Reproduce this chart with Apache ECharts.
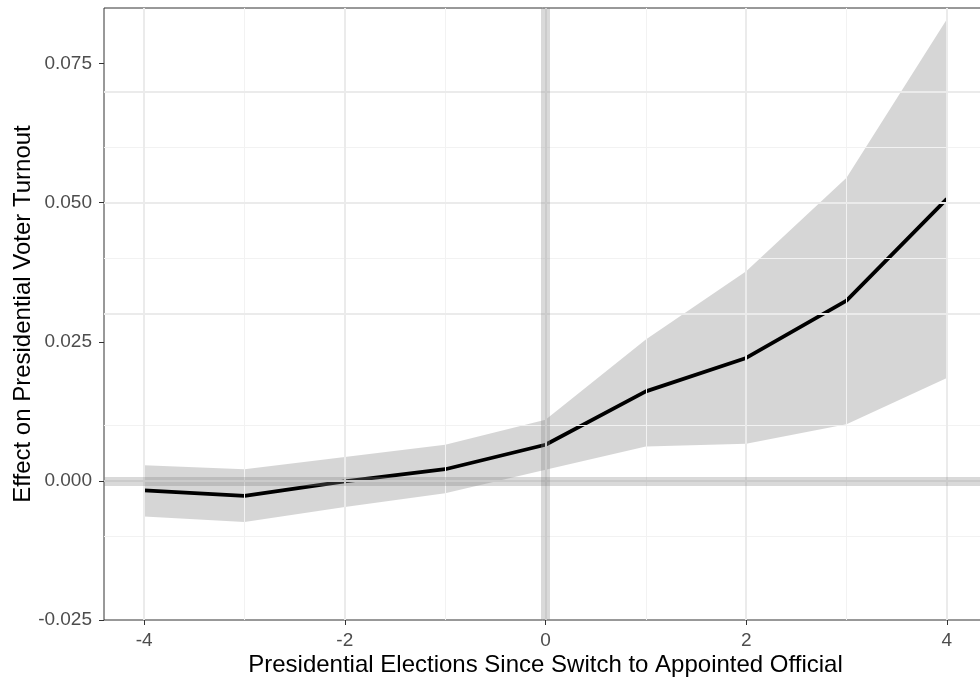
<!DOCTYPE html>
<html>
<head>
<meta charset="utf-8">
<script src="https://cdn.jsdelivr.net/npm/echarts@6/dist/echarts.min.js"></script>
<style>
  html, body { margin: 0; padding: 0; background: #ffffff; }
  #chart { width: 980px; height: 677px; }
</style>
</head>
<body>
<div id="chart"></div>
<script>
// Event-study estimates: effect on presidential turnout by elections since the switch
const elections = [-4, -3, -2, -1, 0, 1, 2, 3, 4];
const effect = [-0.0017, -0.0027, -0.0001, 0.0021, 0.0065, 0.0161, 0.0221, 0.0324, 0.0507];
const upper  = [0.0028, 0.0021, 0.0043, 0.0065, 0.0110, 0.0254, 0.0377, 0.0545, 0.0830];
const lower  = [-0.0064, -0.0074, -0.0047, -0.0022, 0.0020, 0.0062, 0.0067, 0.0102, 0.0185];

// Axis breaks
const xTicks = [-4, -2, 0, 2, 4];
const yTicks = [-0.025, 0, 0.025, 0.05, 0.075];
const xMinor = [-3, -1, 1, 3];
const yMinor = [-0.0125, 0.0125, 0.0375, 0.0625];

// Reference lines (treatment onset and zero effect)
const refX = [0];
const refY = [0];

const FONT = 'Liberation Sans, Arial, sans-serif';

const chart = echarts.init(document.getElementById('chart'), null, { renderer: 'canvas' });

const gridLines = (xs, ys, color, width) => ({
  silent: true,
  symbol: 'none',
  animation: false,
  label: { show: false },
  emphasis: { disabled: true },
  lineStyle: { color: color, width: width, type: 'solid' },
  data: xs.map(v => ({ xAxis: v })).concat(ys.map(v => ({ yAxis: v })))
});

chart.setOption({
  animation: false,
  backgroundColor: '#ffffff',
  grid: {
    left: 104, top: 8, right: -7, bottom: 57,
    outerBoundsMode: 'none',
    containLabel: false,
    show: true, borderColor: '#333333', borderWidth: 1, backgroundColor: '#ffffff'
  },
  xAxis: {
    type: 'value',
    min: -4.4, max: 4.4, interval: 0.4,
    name: 'Presidential Elections Since Switch to Appointed Official',
    nameLocation: 'middle', nameGap: 33, nameMoveOverlap: false,
    nameTextStyle: { color: '#000000', fontSize: 24, fontFamily: FONT },
    axisLine: { show: false, onZero: false },
    axisTick: { show: true, length: 5, customValues: xTicks, lineStyle: { color: '#333333', width: 1 } },
    axisLabel: {
      customValues: xTicks, margin: 11,
      color: '#4d4d4d', fontSize: 19, fontFamily: FONT,
      formatter: v => String(Math.round(v))
    },
    splitLine: { show: false }
  },
  yAxis: {
    type: 'value',
    min: -0.025, max: 0.085, interval: 0.005,
    name: 'Effect on Presidential Voter Turnout',
    nameLocation: 'middle', nameGap: 69, nameMoveOverlap: false,
    nameTextStyle: { color: '#000000', fontSize: 24, fontFamily: FONT },
    axisLine: { show: false, onZero: false },
    axisTick: { show: true, length: 5, customValues: yTicks, lineStyle: { color: '#333333', width: 1 } },
    axisLabel: {
      customValues: yTicks, margin: 12,
      color: '#4d4d4d', fontSize: 19, fontFamily: FONT,
      formatter: v => v.toFixed(3)
    },
    splitLine: { show: false }
  },
  series: [
    {
      // minor grid
      type: 'line', data: [], z: 1,
      markLine: gridLines(xMinor, yMinor, '#f2f2f2', 1)
    },
    {
      // major grid
      type: 'line', data: [], z: 1,
      markLine: gridLines(xTicks, yTicks, '#ebebeb', 2)
    },
    {
      // confidence band
      type: 'custom', z: 2, silent: true,
      data: elections.map((x, i) => [x, lower[i], upper[i]]),
      encode: { x: 0, y: [1, 2] },
      renderItem: (params, api) => {
        if (params.dataIndex !== 0) return null;
        const top = elections.map((x, i) => api.coord([x, upper[i]]));
        const bottom = elections.map((x, i) => api.coord([x, lower[i]])).reverse();
        return {
          type: 'polygon',
          shape: { points: top.concat(bottom) },
          style: { fill: 'rgba(127,127,127,0.32)', stroke: null }
        };
      }
    },
    {
      // reference lines
      type: 'line', data: [], z: 3,
      markLine: gridLines(refX, refY, 'rgba(128,128,128,0.3)', 9)
    },
    {
      type: 'line', z: 4,
      data: elections.map((x, i) => [x, effect[i]]),
      showSymbol: false, symbol: 'none',
      lineStyle: { color: '#000000', width: 3.8, cap: 'butt', join: 'round' },
      silent: true
    }
  ]
});
</script>
</body>
</html>
